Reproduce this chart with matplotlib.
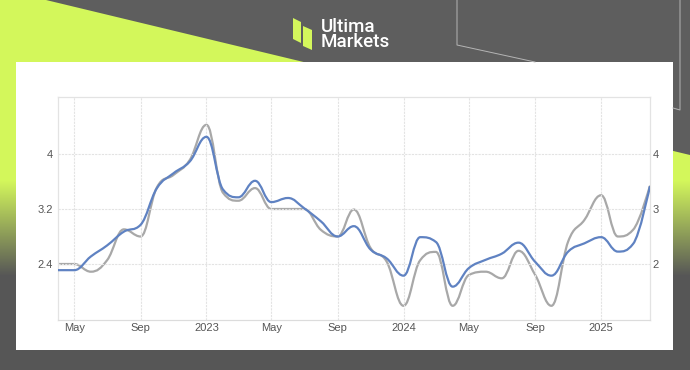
import numpy as np
import pandas as pd
import matplotlib
matplotlib.use("Agg")
import matplotlib.pyplot as plt
import matplotlib.dates as mdates
from matplotlib.path import Path
from matplotlib.patches import PathPatch, Polygon, Rectangle

# monthly series, Apr 2022 .. Apr 2025
months = pd.date_range("2022-04-01", "2025-04-01", freq="MS")
blue_vals = [2.31, 2.31, 2.51, 2.67, 2.87, 2.97, 3.50, 3.72, 3.89,
             4.25, 3.48, 3.37, 3.61, 3.30, 3.36, 3.21, 3.02, 2.80, 2.95, 2.61, 2.48,
             2.23, 2.79, 2.72, 2.07, 2.34, 2.46, 2.55, 2.71, 2.43, 2.23, 2.58, 2.70,
             2.79, 2.58, 2.69, 3.52]
gray_vals = [2.00, 2.00, 1.86, 2.07, 2.63, 2.50, 3.39, 3.62, 3.89,
             4.53, 3.29, 3.15, 3.38, 3.00, 3.00, 3.00, 2.62, 2.50, 2.99, 2.29, 2.04,
             1.24, 2.07, 2.22, 1.24, 1.80, 1.86, 1.74, 2.24, 1.80, 1.24, 2.41, 2.80,
             3.25, 2.50, 2.62, 3.41]

left_ticks = [2.4, 3.2, 4]
left_labels = ["2.4", "3.2", "4"]
right_ticks = [2, 3, 4]
right_labels = ["2", "3", "4"]
x_tick_dates = ["2022-05-01", "2022-09-01", "2023-01-01", "2023-05-01", "2023-09-01",
                "2024-01-01", "2024-05-01", "2024-09-01", "2025-01-01"]
x_tick_labels = ["May", "Sep", "2023", "May", "Sep", "2024", "May", "Sep", "2025"]

LIME = np.array([0.83, 0.97, 0.36])
BG = np.array([0.37, 0.37, 0.37])
BLUE = "#5f82c2"
GRAY = "#a8a8a8"


def spline_path(xs, ys, smoothing=1.5):
    # same control point rule as a Highcharts spline
    denom = smoothing + 1
    n = len(xs)
    lc = [None] * n
    rc = [None] * n
    for i in range(1, n - 1):
        px, py = xs[i], ys[i]
        lx, ly = xs[i - 1], ys[i - 1]
        nx, ny = xs[i + 1], ys[i + 1]
        lcx = (smoothing * px + lx) / denom
        lcy = (smoothing * py + ly) / denom
        rcx = (smoothing * px + nx) / denom
        rcy = (smoothing * py + ny) / denom
        if rcx != lcx:
            corr = (rcy - lcy) * (rcx - px) / (rcx - lcx) + py - rcy
            lcy += corr
            rcy += corr
        if lcy > ly and lcy > py:
            lcy = max(ly, py)
            rcy = 2 * py - lcy
        elif lcy < ly and lcy < py:
            lcy = min(ly, py)
            rcy = 2 * py - lcy
        if rcy > ny and rcy > py:
            rcy = max(ny, py)
            lcy = 2 * py - rcy
        elif rcy < ny and rcy < py:
            rcy = min(ny, py)
            lcy = 2 * py - rcy
        lc[i] = (lcx, lcy)
        rc[i] = (rcx, rcy)
    verts = [(xs[0], ys[0])]
    codes = [Path.MOVETO]
    for i in range(1, n):
        c1 = rc[i - 1] if rc[i - 1] is not None else (xs[i - 1], ys[i - 1])
        c2 = lc[i] if lc[i] is not None else (xs[i], ys[i])
        verts += [c1, c2, (xs[i], ys[i])]
        codes += [Path.CURVE4] * 3
    return Path(verts, codes)


W, H = 690, 370
fig = plt.figure(figsize=(6.9, 3.7), dpi=100)
fig.patch.set_facecolor(BG)

# background decoration in pixel coords
bg = fig.add_axes([0, 0, 1, 1], zorder=0)
bg.set_xlim(0, W)
bg.set_ylim(H, 0)
bg.axis("off")
rows = np.arange(H)
t = np.clip((rows - 180) / 95.0, 0, 1)[:, None]
grad = LIME[None, :] * (1 - t) + np.array([0.34, 0.34, 0.34])[None, :] * t
img = np.repeat(grad[:, None, :], W, axis=1)
im = bg.imshow(img, extent=(0, W, H, 0), aspect="auto", interpolation="bilinear")
lime_poly = Polygon([(46, 0), (W, 155), (W, H), (0, H), (0, 0)], closed=True,
                    facecolor="none", edgecolor="none")
bg.add_patch(lime_poly)
im.set_clip_path(lime_poly)

bg.plot([457, 457, 535], [0, 45, 62], color="#b5b5b5", lw=0.7)
bg.plot([680, 680, 673], [0, 110, 108], color="#b5b5b5", lw=0.7)

bg.add_patch(Rectangle((16, 62), 657, 288, facecolor="white", edgecolor="none"))

# logo
bg.add_patch(Polygon([(293, 18), (301, 22), (301, 43), (293, 39)], facecolor=LIME, edgecolor="none"))
bg.add_patch(Polygon([(303, 26), (312, 30), (312, 50), (303, 46)], facecolor=LIME, edgecolor="none"))
bg.text(321, 18, "Ultima\nMarkets", color="white", fontsize=13.5, family="Roboto",
        weight="medium", va="top", ha="left", linespacing=0.82)

# chart axes
x0, x1, y0, y1 = 58.0, 649.7, 97.0, 320.0
ax = fig.add_axes([x0 / W, 1 - y1 / H, (x1 - x0) / W, (y1 - y0) / H], zorder=1)
ax.patch.set_alpha(0)
ax2 = ax.twinx()

xnum = mdates.date2num(months.to_pydatetime())
ax.set_xlim(xnum[0], xnum[-1])
ax.set_ylim(1.585, 4.829)
ax2.set_ylim(0.982, 5.036)

grid_kw = dict(color="#e3e3e3", lw=0.8, ls=(0, (2, 1)))
ax.set_yticks(left_ticks)
ax.set_yticklabels(left_labels)
ax2.set_yticks(right_ticks)
ax2.set_yticklabels(right_labels)
ax.set_xticks(mdates.date2num(pd.to_datetime(x_tick_dates).to_pydatetime()))
ax.set_xticklabels(x_tick_labels)
ax.grid(True, **grid_kw)
ax.set_axisbelow(True)

for a in (ax, ax2):
    for s in a.spines.values():
        s.set_color("#e3e3e3")
        s.set_linewidth(0.8)
    a.tick_params(length=0, labelsize=8, labelcolor="#555555")
    for lab in a.get_xticklabels() + a.get_yticklabels():
        lab.set_family("Liberation Sans")
ax.spines["bottom"].set_color("#dcdcdc")
ax.tick_params(axis="y", pad=3.5)
ax.tick_params(axis="x", pad=2.5)
ax2.tick_params(axis="y", pad=2)

ax2.add_patch(PathPatch(spline_path(xnum, gray_vals), fill=False, edgecolor=GRAY,
                        lw=1.6, capstyle="round", joinstyle="round"))
ax.add_patch(PathPatch(spline_path(xnum, blue_vals), fill=False, edgecolor=BLUE,
                       lw=1.6, capstyle="round", joinstyle="round", zorder=3))
ax.set_zorder(2)
ax2.set_zorder(1)
ax.patch.set_visible(False)
ax2.patch.set_visible(False)

fig.savefig("out.png", dpi=100, facecolor=fig.get_facecolor())
